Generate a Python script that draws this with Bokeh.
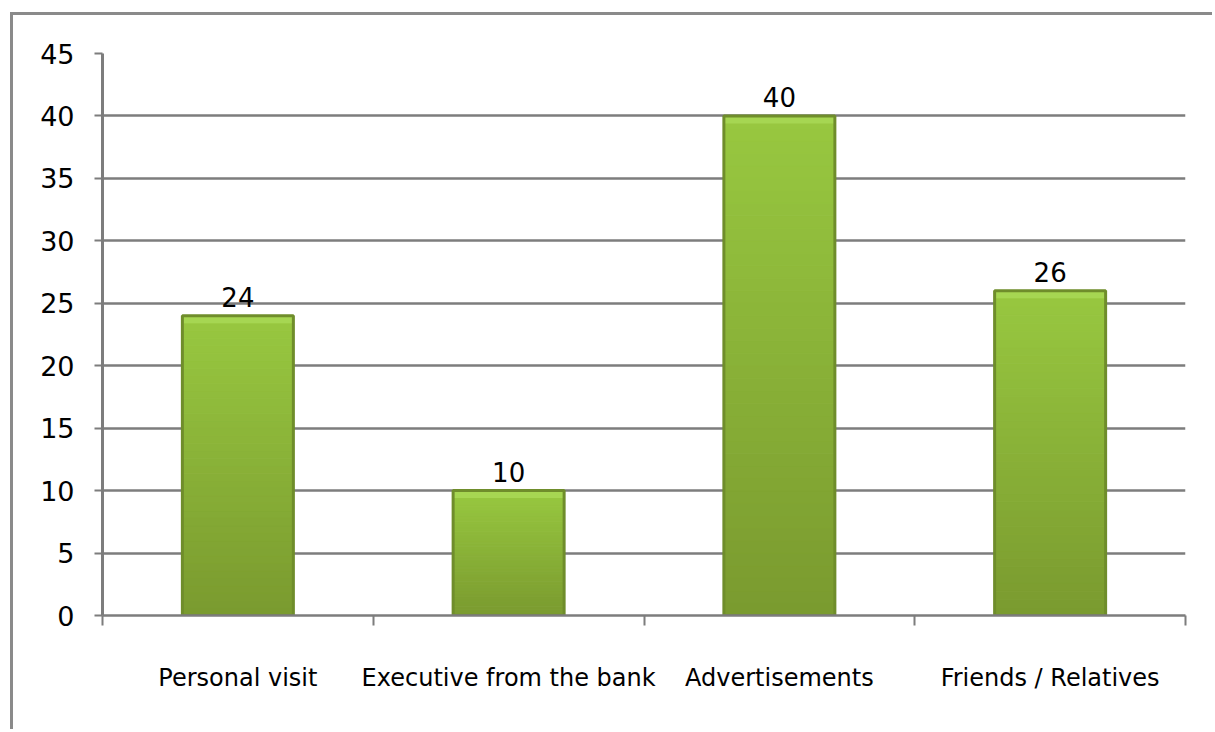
from bokeh.plotting import figure
from bokeh.models import FixedTicker, Range1d
from bokeh.core.properties import value
from bokeh.embed import file_html
from bokeh.resources import INLINE

categories = ["Personal visit", "Executive from the bank", "Advertisements", "Friends / Relatives"]
values = [24, 10, 40, 26]
y_ticks = [0, 5, 10, 15, 20, 25, 30, 35, 40, 45]

FONT = "DejaVu Sans"
GRID = "#7d7d7d"

n = len(categories)
centers = [i + 0.5 for i in range(n)]
bounds = list(range(n + 1))
bar_w = 0.41

p = figure(width=1202, height=717, output_backend="svg", toolbar_location=None,
           x_range=Range1d(0, n), y_range=Range1d(0, y_ticks[-1]),
           min_border_left=89, min_border_right=30, min_border_top=38, min_border_bottom=117)
p.margin = (12, 0, 0, 10)
p.styles = {"border-top": "3px solid #8a8a8a", "border-left": "3px solid #8a8a8a"}
p.outline_line_color = None
p.background_fill_color = "white"
p.border_fill_color = "white"

# gradient bars
def lerp(c1, c2, t):
    a = [int(c1[i:i + 2], 16) for i in (1, 3, 5)]
    b = [int(c2[i:i + 2], 16) for i in (1, 3, 5)]
    return "#%02x%02x%02x" % tuple(int(round(a[k] + (b[k] - a[k]) * t)) for k in range(3))

N = 40
L, R, B, T, C = [], [], [], [], []
for c, v in zip(centers, values):
    for k in range(N):
        L.append(c - bar_w / 2)
        R.append(c + bar_w / 2)
        B.append(v * k / N)
        T.append(v * (k + 1) / N)
        C.append(lerp("#7a9a2f", "#98c840", (k + 0.5) / N))
p.quad(left=L, right=R, bottom=B, top=T, fill_color=C, line_color=C, line_width=1)

# top highlight band
p.quad(left=[c - bar_w / 2 for c in centers], right=[c + bar_w / 2 for c in centers],
       bottom=[v - 0.6 for v in values], top=values,
       fill_color="#a6d652", line_color=None)
# darker bevel edges
p.vbar(x=centers, top=values, bottom=0, width=bar_w, fill_color=None,
       line_color="#6f8d2b", line_width=3)

# value labels
p.text(x=centers, y=values, text=[str(v) for v in values], text_align="center",
       text_baseline="bottom", y_offset=-9, text_font=value(FONT),
       text_font_size="26px", text_color="black")

# y axis
p.yaxis.ticker = FixedTicker(ticks=y_ticks)
p.yaxis.axis_line_color = GRID
p.yaxis.axis_line_width = 3
p.yaxis.major_tick_line_color = GRID
p.yaxis.major_tick_line_width = 2
p.yaxis.major_tick_out = 8
p.yaxis.major_tick_in = 0
p.yaxis.minor_tick_line_color = None
p.yaxis.major_label_standoff = 20
p.yaxis.major_label_text_font = FONT
p.yaxis.major_label_text_font_size = "27px"
p.yaxis.major_label_text_color = "black"

p.ygrid.grid_line_color = GRID
p.ygrid.grid_line_width = 2.5
p.xgrid.visible = False

# x axis with boundary ticks
p.xaxis.ticker = FixedTicker(ticks=centers, minor_ticks=bounds)
p.xaxis.major_label_overrides = {c: name for c, name in zip(centers, categories)}
p.xaxis.axis_line_color = GRID
p.xaxis.axis_line_width = 2.5
p.xaxis.major_tick_line_color = None
p.xaxis.major_tick_out = 0
p.xaxis.major_tick_in = 0
p.xaxis.minor_tick_line_color = GRID
p.xaxis.minor_tick_line_width = 2
p.xaxis.minor_tick_out = 10
p.xaxis.minor_tick_in = 0
p.xaxis.major_label_standoff = 38
p.xaxis.major_label_text_font = FONT
p.xaxis.major_label_text_font_size = "24px"
p.xaxis.major_label_text_color = "black"

open("out.html", "w").write(file_html(p, INLINE))
